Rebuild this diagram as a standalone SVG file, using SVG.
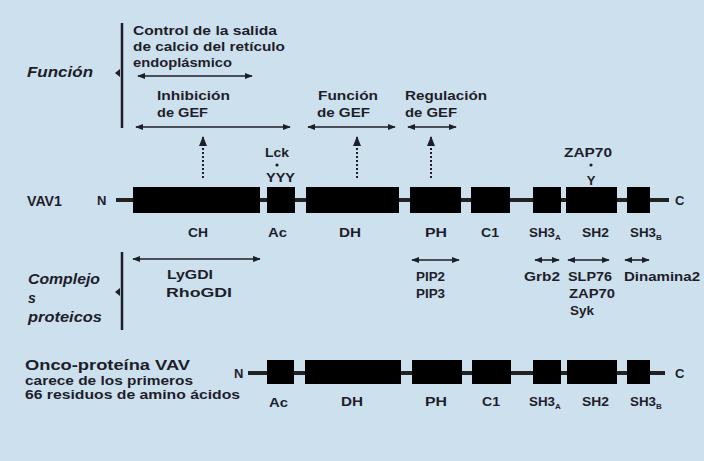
<svg xmlns="http://www.w3.org/2000/svg" width="704" height="461" viewBox="0 0 704 461">
<defs>
<marker id="ah" viewBox="0 0 10 10" refX="9" refY="5" markerWidth="5" markerHeight="5" orient="auto-start-reverse">
<path d="M0,1 L10,5 L0,9 z" fill="#1e1e28"/>
</marker>
<style>
text{font-family:"Liberation Sans",Arial,sans-serif;font-weight:bold;fill:#1e1e2a;font-size:13px}
.it{font-style:italic;font-size:14px}
.big{font-size:14px}
.bb{fill:#000;stroke:none}
.axis{stroke:#222;stroke-width:4}
.dbl{stroke:#1e1e28;stroke-width:1.6;fill:none;marker-start:url(#ah);marker-end:url(#ah)}
.dot{stroke:#1e1e28;stroke-width:2;stroke-dasharray:2 2;fill:none;marker-end:url(#ah)}
.bar{stroke:#1e1e28;stroke-width:2.5}
.sub{font-size:8px}
</style>
</defs>
<rect x="0" y="0" width="704" height="461" fill="#cde0ee"/>

<g id="funcion">
<text x="27" y="77" class="it" textLength="66" lengthAdjust="spacingAndGlyphs">Función</text>
<line class="bar" x1="122" y1="23" x2="122" y2="128"/>
<path d="M115,73 L120,69 L120,77 z" fill="#1e1e28"/>
<text x="133" y="35" textLength="144" lengthAdjust="spacingAndGlyphs">Control de la salida</text>
<text x="133" y="51" textLength="152" lengthAdjust="spacingAndGlyphs">de calcio del retículo</text>
<text x="133" y="67" textLength="99" lengthAdjust="spacingAndGlyphs">endoplásmico</text>
<text x="157" y="100" textLength="73" lengthAdjust="spacingAndGlyphs">Inhibición</text>
<text x="157" y="117" textLength="51" lengthAdjust="spacingAndGlyphs">de GEF</text>
<text x="318" y="100" textLength="60" lengthAdjust="spacingAndGlyphs">Función</text>
<text x="317" y="117" textLength="53" lengthAdjust="spacingAndGlyphs">de GEF</text>
<text x="405" y="100" textLength="82" lengthAdjust="spacingAndGlyphs">Regulación</text>
<text x="405" y="117" textLength="52" lengthAdjust="spacingAndGlyphs">de GEF</text>
</g>

<g id="vav1">
<text x="27" y="206" class="big" textLength="35" lengthAdjust="spacingAndGlyphs">VAV1</text>
<text x="97" y="205">N</text>
<line class="axis" x1="116" y1="200" x2="669" y2="200"/>
<rect class="bb" x="133" y="187" width="127" height="26"/>
<rect class="bb" x="267" y="187" width="28" height="26"/>
<rect class="bb" x="306" y="187" width="93" height="26"/>
<rect class="bb" x="410" y="187" width="51" height="26"/>
<rect class="bb" x="471" y="187" width="39" height="26"/>
<rect class="bb" x="533" y="187" width="28" height="26"/>
<rect class="bb" x="566" y="187" width="51" height="26"/>
<rect class="bb" x="627" y="187" width="23" height="26"/>
<text x="675" y="205">C</text>
<text x="188" y="237" textLength="20" lengthAdjust="spacingAndGlyphs">CH</text>
<text x="268" y="237" textLength="19" lengthAdjust="spacingAndGlyphs">Ac</text>
<text x="339" y="237" textLength="22" lengthAdjust="spacingAndGlyphs">DH</text>
<text x="425" y="237" textLength="22" lengthAdjust="spacingAndGlyphs">PH</text>
<text x="481" y="237" textLength="18" lengthAdjust="spacingAndGlyphs">C1</text>
<text x="529" y="237"><tspan textLength="26" lengthAdjust="spacingAndGlyphs">SH3</tspan><tspan class="sub" dy="3">A</tspan></text>
<text x="582" y="237" textLength="27" lengthAdjust="spacingAndGlyphs">SH2</text>
<text x="630" y="237"><tspan textLength="26" lengthAdjust="spacingAndGlyphs">SH3</tspan><tspan class="sub" dy="3">B</tspan></text>
<text x="265" y="157" textLength="24" lengthAdjust="spacingAndGlyphs">Lck</text>
<circle cx="277" cy="165" r="1.6" fill="#1e1e2a"/>
<text x="266" y="182" textLength="29" lengthAdjust="spacingAndGlyphs">YYY</text>
<text x="564" y="157" textLength="48" lengthAdjust="spacingAndGlyphs">ZAP70</text>
<circle cx="591" cy="165" r="1.6" fill="#1e1e2a"/>
<text x="591" y="185" text-anchor="middle">Y</text>
</g>

<g id="complejos">
<text x="28" y="284" class="it" textLength="72" lengthAdjust="spacingAndGlyphs">Complejo</text>
<text x="28" y="303" class="it">s</text>
<text x="28" y="322" class="it" textLength="74" lengthAdjust="spacingAndGlyphs">proteicos</text>
<line class="bar" x1="122" y1="252" x2="122" y2="330"/>
<path d="M115,292 L120,288 L120,296 z" fill="#1e1e28"/>
<text x="167" y="279" textLength="46" lengthAdjust="spacingAndGlyphs">LyGDI</text>
<text x="166" y="297" textLength="66" lengthAdjust="spacingAndGlyphs">RhoGDI</text>
<text x="416" y="281" textLength="29" lengthAdjust="spacingAndGlyphs">PIP2</text>
<text x="416" y="298" textLength="29" lengthAdjust="spacingAndGlyphs">PIP3</text>
<text x="524" y="281" textLength="36" lengthAdjust="spacingAndGlyphs">Grb2</text>
<text x="568" y="281" textLength="44" lengthAdjust="spacingAndGlyphs">SLP76</text>
<text x="569" y="298" textLength="46" lengthAdjust="spacingAndGlyphs">ZAP70</text>
<text x="570" y="315" textLength="24" lengthAdjust="spacingAndGlyphs">Syk</text>
<text x="624" y="281" textLength="76" lengthAdjust="spacingAndGlyphs">Dinamina2</text>
</g>

<g id="onco">
<text x="25" y="370" class="big" textLength="165" lengthAdjust="spacingAndGlyphs">Onco-proteína VAV</text>
<text x="25" y="385" font-size="12" textLength="168" lengthAdjust="spacingAndGlyphs">carece de los primeros</text>
<text x="25" y="399" font-size="12" textLength="215" lengthAdjust="spacingAndGlyphs">66 residuos de amino ácidos</text>
<text x="234" y="378">N</text>
<line class="axis" x1="248" y1="373" x2="665" y2="373"/>
<rect class="bb" x="267" y="360" width="27" height="24"/>
<rect class="bb" x="305" y="360" width="96" height="24"/>
<rect class="bb" x="412" y="360" width="50" height="24"/>
<rect class="bb" x="472" y="360" width="39" height="24"/>
<rect class="bb" x="533" y="360" width="28" height="24"/>
<rect class="bb" x="567" y="360" width="50" height="24"/>
<rect class="bb" x="627" y="360" width="23" height="24"/>
<text x="675" y="378">C</text>
<text x="269" y="407" textLength="19" lengthAdjust="spacingAndGlyphs">Ac</text>
<text x="341" y="406" textLength="22" lengthAdjust="spacingAndGlyphs">DH</text>
<text x="425" y="406" textLength="22" lengthAdjust="spacingAndGlyphs">PH</text>
<text x="482" y="406" textLength="18" lengthAdjust="spacingAndGlyphs">C1</text>
<text x="529" y="406"><tspan textLength="26" lengthAdjust="spacingAndGlyphs">SH3</tspan><tspan class="sub" dy="3">A</tspan></text>
<text x="582" y="406" textLength="27" lengthAdjust="spacingAndGlyphs">SH2</text>
<text x="630" y="406"><tspan textLength="26" lengthAdjust="spacingAndGlyphs">SH3</tspan><tspan class="sub" dy="3">B</tspan></text>
</g>

<g id="connectors">
<line class="dbl" x1="138" y1="76" x2="252" y2="76"/>
<line class="dbl" x1="136" y1="127" x2="290" y2="127"/>
<line class="dbl" x1="308" y1="127" x2="395" y2="127"/>
<line class="dbl" x1="408" y1="127" x2="456" y2="127"/>
<line class="dot" x1="203" y1="178" x2="203" y2="137"/>
<line class="dot" x1="357" y1="178" x2="357" y2="137"/>
<line class="dot" x1="431" y1="178" x2="431" y2="137"/>
<line class="dbl" x1="133" y1="259" x2="260" y2="259"/>
<line class="dbl" x1="412" y1="260" x2="459" y2="260"/>
<line class="dbl" x1="535" y1="260" x2="559" y2="260"/>
<line class="dbl" x1="568" y1="260" x2="609" y2="260"/>
<line class="dbl" x1="625" y1="260" x2="649" y2="260"/>
</g>
</svg>
